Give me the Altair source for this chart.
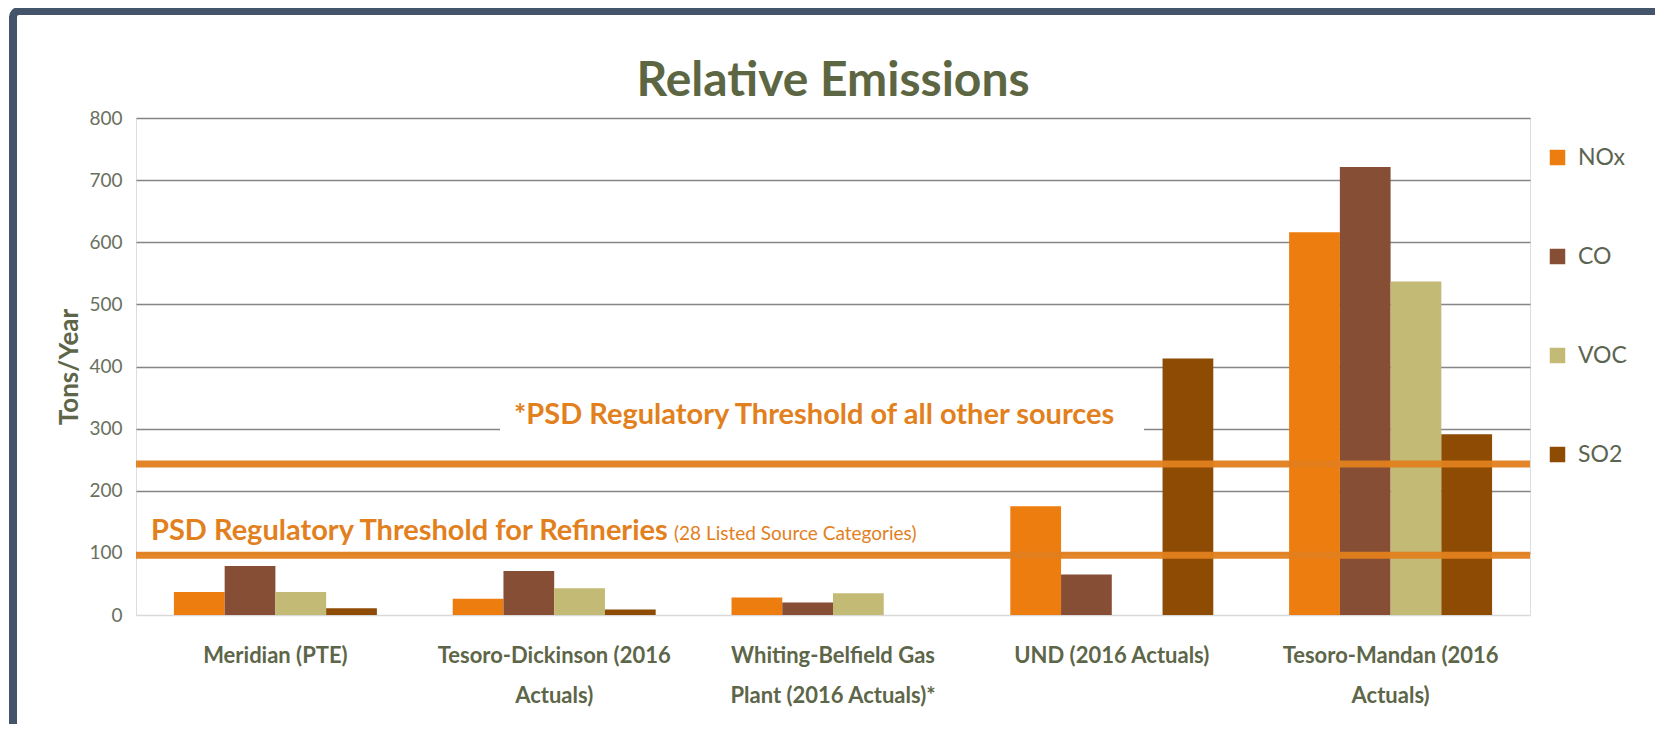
import altair as alt
import pandas as pd

# ---- data ----
sites = [
    "Meridian (PTE)",
    "Tesoro-Dickinson (2016\nActuals)",
    "Whiting-Belfield Gas\nPlant (2016 Actuals)*",
    "UND (2016 Actuals)",
    "Tesoro-Mandan (2016\nActuals)",
]
pollutants = ["NOx", "CO", "VOC", "SO2"]
nox = [37, 26, 28, 175, 616]
co = [79, 71, 20, 65, 721]
voc = [37, 43, 35, 0, 537]
so2 = [11, 9, 0, 413, 291]
colors = ["#ED7D0E", "#864E35", "#C2BA75", "#8E4B04"]

threshold_values = [243, 96]
threshold_texts = [
    "*PSD Regulatory Threshold of all other sources",
    "PSD Regulatory Threshold for Refineries",
]
threshold_note = "(28 Listed Source Categories)"
chart_title = "Relative Emissions"

y_ticks = [0, 100, 200, 300, 400, 500, 600, 700, 800]

rows = []
for i, s in enumerate(sites):
    for p, vals in zip(pollutants, [nox, co, voc, so2]):
        rows.append({"site": s, "pollutant": p, "value": vals[i]})
df = pd.DataFrame(rows)

W, H = 1394, 497
ORANGE = "#E2801E"
TXT = "#5D6648"

bars = alt.Chart(df).mark_bar().encode(
    x=alt.X(
        "site:N",
        sort=sites,
        scale=alt.Scale(paddingInner=0.272, paddingOuter=0.136),
        axis=alt.Axis(
            title=None,
            labelExpr="split(datum.label, '\\n')",
            labelFont="Lato",
            labelFontSize=22,
            labelFontWeight="bold",
            labelColor=TXT,
            labelPadding=30,
            labelLineHeight=40,
            labelAngle=0,
            labelLimit=400,
            labelOverlap=False,
            domain=False,
            ticks=False,
        ),
    ),
    xOffset=alt.XOffset("pollutant:N", sort=pollutants, scale=alt.Scale(paddingInner=0)),
    y=alt.Y(
        "value:Q",
        scale=alt.Scale(domain=[0, 800], nice=False),
        axis=alt.Axis(
            values=y_ticks,
            title="Tons/Year",
            titleFont="Lato",
            titleFontSize=26,
            titleFontWeight="bold",
            titleColor=TXT,
            titleX=-67,
            titleY=H / 2,
            titleAlign="center",
            titleBaseline="middle",
            labelFont="Lato",
            labelFontSize=19,
            labelColor="#6A705E",
            labelPadding=14,
            domain=False,
            ticks=False,
            gridColor={"condition": {"test": "datum.value === 0", "value": "#D9D9D9"}, "value": "#858585"},
            gridWidth=1.6,
        ),
    ),
    color=alt.Color(
        "pollutant:N",
        sort=pollutants,
        scale=alt.Scale(domain=pollutants, range=colors),
        legend=alt.Legend(
            orient="none",
            legendX=1410,
            legendY=28,
            direction="vertical",
            title=None,
            symbolType="square",
            symbolSize=240,
            symbolStrokeWidth=0,
            symbolOpacity=1,
            labelFont="Lato",
            labelFontSize=23,
            labelColor="#5B6450",
            labelOffset=9,
            rowPadding=75,
        ),
    ),
)

# white gap in the 300 gridline behind the upper annotation
gap = alt.Chart().mark_rect(color="white").encode(
    x=alt.value(364), x2=alt.value(1008),
    y=alt.datum(288), y2=alt.datum(318),
)

rule_hi = alt.Chart().mark_rule(color=ORANGE, strokeWidth=7, opacity=0.95).encode(
    y=alt.datum(threshold_values[0])
)
rule_lo = alt.Chart().mark_rule(color=ORANGE, strokeWidth=7, opacity=0.95).encode(
    y=alt.datum(threshold_values[1])
)

text_hi = alt.Chart().mark_text(
    align="left", baseline="alphabetic", font="Lato", fontSize=29, fontWeight="bold",
    color=ORANGE, dy=-40,
).encode(x=alt.value(378), y=alt.datum(threshold_values[0]), text=alt.value(threshold_texts[0]))

text_lo = alt.Chart().mark_text(
    align="left", baseline="alphabetic", font="Lato", fontSize=29, fontWeight="bold",
    color=ORANGE, dy=-15,
).encode(x=alt.value(15), y=alt.datum(threshold_values[1]), text=alt.value(threshold_texts[1]))

text_note = alt.Chart().mark_text(
    align="left", baseline="alphabetic", font="Lato", fontSize=19,
    color=ORANGE, dy=-15,
).encode(x=alt.value(538), y=alt.datum(threshold_values[1]), text=alt.value(threshold_note))

title_text = alt.Chart().mark_text(
    align="center", baseline="alphabetic", font="Lato", fontSize=48, fontWeight="bold",
    color="#5D6642",
).encode(x=alt.value(W / 2), y=alt.value(-22), text=alt.value(chart_title))

frame = alt.Chart().mark_rect(
    fillOpacity=0, stroke="#44546A", strokeWidth=8, cornerRadius=6
).encode(
    x=alt.value(-123), x2=alt.value(1560), y=alt.value(-107), y2=alt.value(640)
)

chart = alt.layer(
    bars, gap, rule_hi, rule_lo, text_hi, text_lo, text_note, title_text, frame
).properties(
    width=W,
    height=H,
    autosize=alt.AutoSizeParams(type="none"),
    padding={"left": 128, "top": 110, "right": 125, "bottom": 109},
).configure_view(stroke=None).configure(background="white")

chart.save("out.html", embed_options={"renderer": "svg", "actions": False})
